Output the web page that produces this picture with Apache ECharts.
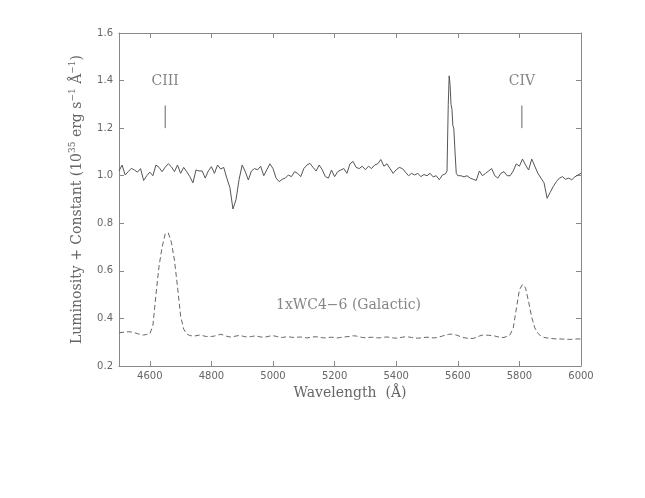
<!DOCTYPE html>
<html>
<head>
<meta charset="utf-8">
<script src="https://cdn.jsdelivr.net/npm/echarts@6/dist/echarts.min.js"></script>
<style>
html, body { margin: 0; padding: 0; background: #fff; }
#spec { width: 645px; height: 498px; }
</style>
</head>
<body>
<div id="spec"></div>
<script>
// observed spectrum (solid)
var obsWl = [
  4500,4510,4520,4530,4540,4550,4560,4570,4580,4590,
  4600,4610,4620,4630,4640,4650,4660,4670,4680,4690,
  4700,4710,4720,4730,4740,4750,4760,4770,4780,4790,
  4800,4810,4820,4830,4840,4850,4860,4870,4880,4890,
  4900,4910,4920,4930,4940,4950,4960,4970,4980,4990,
  5000,5010,5020,5030,5040,5050,5060,5070,5080,5090,
  5100,5110,5120,5130,5140,5150,5160,5170,5180,5190,
  5200,5210,5220,5230,5240,5250,5260,5270,5280,5290,
  5300,5310,5320,5330,5340,5350,5360,5370,5380,5390,
  5400,5410,5420,5430,5440,5450,5460,5470,5480,5490,
  5500,5510,5520,5530,5540,5550,5560,
  5565,5569,5572,5575,5578,5581,5584,5587,5591,5595,
  5600,5610,5620,5630,5640,5650,5660,5670,5680,5690,
  5700,5710,5720,5730,5740,5750,5760,5770,5780,5790,
  5800,5810,5820,5830,5840,5850,5860,5870,5880,5890,
  5900,5910,5920,5930,5940,5950,5960,5970,5980,5990,6000
];
var obsFlux = [
  1.02,1.045,1.003,1.017,1.031,1.024,1.015,1.03,0.98,1.00,
  1.015,1.00,1.045,1.035,1.017,1.036,1.05,1.038,1.017,1.045,
  1.01,1.035,1.017,0.996,0.97,1.024,1.02,1.02,0.99,1.02,
  1.038,1.01,1.045,1.028,1.035,0.99,0.95,0.86,0.90,0.985,
  1.045,1.017,0.982,1.02,1.03,1.025,1.04,1.00,1.025,1.05,
  1.03,0.99,0.975,0.985,0.99,1.003,0.996,1.017,1.01,0.996,
  1.03,1.045,1.052,1.035,1.02,1.045,1.025,0.996,0.99,1.024,
  0.996,1.017,1.024,1.03,1.01,1.05,1.06,1.035,1.03,1.04,
  1.025,1.04,1.03,1.045,1.05,1.068,1.04,1.05,1.03,1.01,
  1.025,1.035,1.03,1.015,1.00,1.01,1.003,1.01,0.996,1.005,
  1.00,1.01,0.995,1.00,0.983,1.003,1.008,
  1.02,1.30,1.42,1.38,1.30,1.28,1.21,1.20,1.10,1.01,
  1.00,1.00,0.995,1.00,0.99,0.985,0.98,1.02,1.00,1.01,
  1.02,1.03,1.00,0.99,1.01,1.017,1.00,1.00,1.02,1.05,
  1.04,1.07,1.045,1.024,1.07,1.04,1.01,0.99,0.97,0.905,
  0.93,0.955,0.975,0.99,0.996,0.985,0.99,0.983,0.995,1.003,1.01
];

// 1xWC4-6 galactic template (dashed)
var tplWl = [
  4500,4510,4520,4530,4540,4550,4560,4570,4580,4590,
  4600,4610,4620,4630,4640,4650,4660,4670,4680,4690,
  4700,4710,4720,4730,4740,4750,4760,4770,4780,4790,
  4800,4810,4820,4830,4840,4850,4860,4870,4880,4890,
  4900,4910,4920,4930,4940,4950,4960,4970,4980,4990,
  5000,5010,5020,5030,5040,5050,5060,5070,5080,5090,
  5100,5110,5120,5130,5140,5150,5160,5170,5180,5190,
  5200,5210,5220,5230,5240,5250,5260,5270,5280,5290,
  5300,5310,5320,5330,5340,5350,5360,5370,5380,5390,
  5400,5410,5420,5430,5440,5450,5460,5470,5480,5490,
  5500,5510,5520,5530,5540,5550,5560,5570,5580,5590,
  5600,5610,5620,5630,5640,5650,5660,5670,5680,5690,
  5700,5710,5720,5730,5740,5750,5760,5770,5780,5790,
  5800,5810,5820,5830,5840,5850,5860,5870,5880,5890,
  5900,5910,5920,5930,5940,5950,5960,5970,5980,5990,6000
];
var tplFlux = [
  0.340,0.341,0.343,0.344,0.343,0.340,0.336,0.332,0.330,0.333,
  0.335,0.370,0.500,0.620,0.700,0.755,0.760,0.720,0.645,0.533,
  0.410,0.355,0.335,0.328,0.326,0.327,0.330,0.328,0.325,0.323,
  0.324,0.326,0.330,0.333,0.330,0.325,0.322,0.323,0.326,0.328,
  0.326,0.323,0.322,0.324,0.326,0.325,0.322,0.321,0.323,0.326,
  0.327,0.325,0.321,0.320,0.322,0.323,0.321,0.320,0.321,0.322,
  0.320,0.318,0.320,0.322,0.323,0.321,0.319,0.318,0.320,0.321,
  0.320,0.318,0.320,0.322,0.323,0.325,0.327,0.326,0.323,0.320,
  0.319,0.320,0.321,0.320,0.318,0.319,0.321,0.322,0.320,0.318,
  0.317,0.319,0.321,0.323,0.322,0.320,0.318,0.317,0.318,0.320,
  0.321,0.320,0.318,0.319,0.322,0.326,0.330,0.333,0.334,0.332,
  0.328,0.323,0.319,0.317,0.316,0.316,0.320,0.326,0.330,0.330,
  0.329,0.328,0.326,0.323,0.319,0.320,0.325,0.332,0.360,0.440,
  0.520,0.543,0.528,0.470,0.405,0.360,0.338,0.325,0.320,0.318,
  0.316,0.315,0.314,0.314,0.313,0.313,0.312,0.312,0.313,0.314,0.313
];

// line identifications
var ionNames = ['CIII', 'CIV'];
var ionWl = [4650, 5808];
var ionTickLow = 1.20;
var ionTickHigh = 1.295;
var ionLabelY = 1.395;
var tplName = '1xWC4\u22126 (Galactic)';
var tplLabelAt = [5245, 0.455];

var xTicks = [4600, 4800, 5000, 5200, 5400, 5600, 5800, 6000];

var grey = '#666';
var axisGrey = '#888';
var serif = 'DejaVu Serif';

function pairs(xs, ys) {
  return xs.map(function (x, i) { return [x, ys[i]]; });
}

var chart = echarts.init(document.getElementById('spec'), null, {renderer: 'canvas'});

var ionSeries = ionWl.map(function (w, i) {
  return {
    type: 'line', name: ionNames[i], silent: true, symbol: 'none',
    lineStyle: {color: grey, width: 1},
    data: [[w, ionTickLow], [w, ionTickHigh]]
  };
});

var labelData = ionWl.map(function (w, i) {
  return {name: ionNames[i], value: [w, ionLabelY]};
});
labelData.push({name: tplName, value: tplLabelAt});

var xBase = {
  type: 'value', min: 4500, max: 6000,
  axisLine: {lineStyle: {color: axisGrey, width: 1}},
  axisTick: {inside: true, length: 5, customValues: xTicks, lineStyle: {color: axisGrey}},
  splitLine: {show: false}
};
var yBase = {
  type: 'value', min: 0.2, max: 1.6, interval: 0.2,
  axisLine: {show: true, lineStyle: {color: axisGrey, width: 1}},
  axisTick: {show: true, inside: true, length: 5, lineStyle: {color: axisGrey}},
  splitLine: {show: false}
};

chart.setOption({
  animation: false,
  backgroundColor: '#fff',
  grid: {left: 119, right: 64, top: 33, bottom: 132},
  xAxis: [
    Object.assign({}, xBase, {
      position: 'bottom',
      name: 'Wavelength  (\u00c5)', nameLocation: 'middle', nameGap: 20,
      nameTextStyle: {fontFamily: serif, fontSize: 14, color: grey},
      axisLabel: {
        customValues: xTicks, margin: 5, fontFamily: 'DejaVu Sans', fontSize: 10, color: grey,
        formatter: function (v) { return String(v); }
      }
    }),
    Object.assign({}, xBase, {position: 'top', axisLabel: {show: false}})
  ],
  yAxis: [
    Object.assign({}, yBase, {
      position: 'left',
      name: 'Luminosity + Constant (10{sup|35} erg s{sup|\u22121} \u00c5{sup|\u22121})',
      nameLocation: 'middle', nameRotate: 90, nameGap: 29,
      nameTextStyle: {
        fontFamily: serif, fontSize: 14, color: grey, lineHeight: 18,
        rich: {sup: {fontFamily: serif, fontSize: 9, color: grey, verticalAlign: 'top', lineHeight: 18}}
      },
      axisLabel: {
        margin: 6, fontFamily: 'DejaVu Sans', fontSize: 10, color: grey,
        formatter: function (v) { return v.toFixed(1); }
      }
    }),
    Object.assign({}, yBase, {position: 'right', axisLabel: {show: false}})
  ],
  series: [
    {
      type: 'line', name: 'observed', symbol: 'none', silent: true,
      lineStyle: {color: '#555', width: 1},
      data: pairs(obsWl, obsFlux)
    },
    {
      type: 'line', name: 'template', symbol: 'none', silent: true,
      lineStyle: {color: grey, width: 1, type: [5, 3]},
      data: pairs(tplWl, tplFlux)
    },
    {
      type: 'scatter', name: 'labels', silent: true, symbolSize: 1,
      itemStyle: {color: 'rgba(0,0,0,0)'},
      label: {
        show: true, position: 'inside', formatter: '{b}',
        fontFamily: serif, fontSize: 14, color: grey
      },
      data: labelData
    }
  ].concat(ionSeries)
});
</script>
</body>
</html>
